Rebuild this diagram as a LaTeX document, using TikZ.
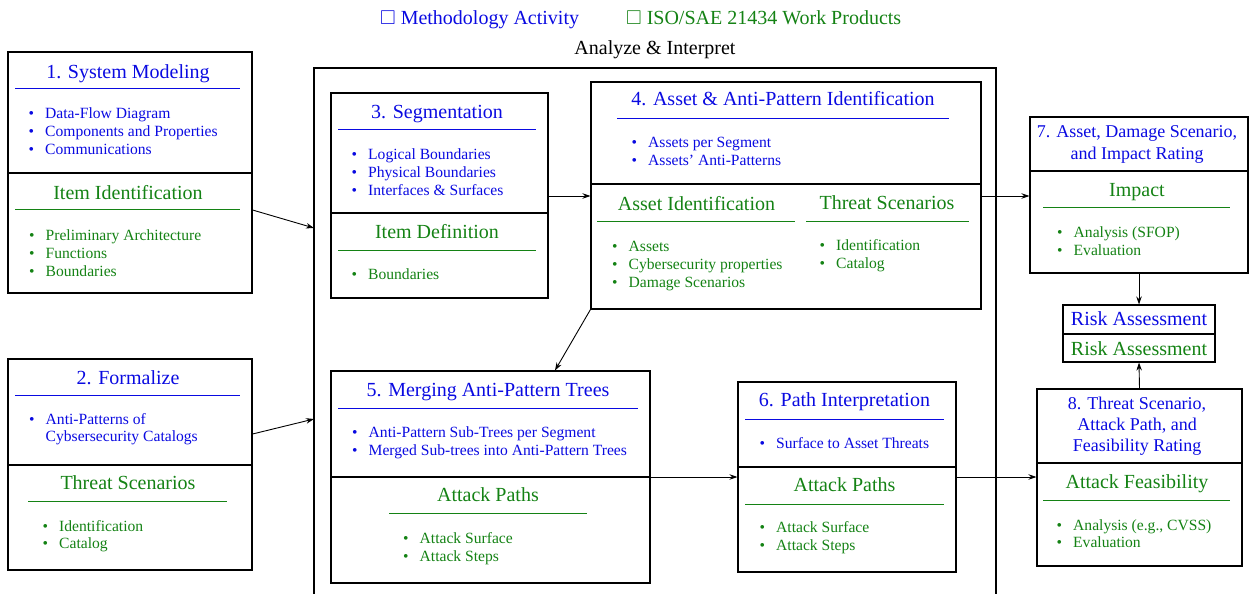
\documentclass[tikz,border=0pt]{standalone}
\usepackage{amssymb}
\usepackage{fontspec}
\setmainfont{Liberation Serif}
\usetikzlibrary{fit,arrows.meta}
\definecolor{mblue}{RGB}{10,10,225}
\definecolor{wgreen}{RGB}{20,130,20}
\newcommand{\bu}{\makebox[16.5pt][l]{\textbullet}}
\tikzset{
  box/.style={draw, line width=1.1pt, inner sep=0pt},
  ttl/.style={anchor=base, inner sep=0pt, font=\fontsize{20}{22}\selectfont},
  sttl/.style={anchor=base, inner sep=0pt, font=\fontsize{18}{21}\selectfont},
  itm/.style={anchor=base west, inner sep=0pt, font=\fontsize{15.6}{18}\selectfont},
  mb/.style={text=mblue}, wp/.style={text=wgreen},
  rb/.style={draw=mblue, line width=1pt},
  rg/.style={draw=wgreen, line width=1pt},
  sep/.style={draw=black, line width=1.1pt},
  arr/.style={-{Stealth[length=8pt,width=5.5pt]}, line width=0.9pt},
}
\begin{document}
\begin{tikzpicture}[x=1pt,y=-1pt]
\useasboundingbox (0,0) rectangle (1251,594);

% legend
\node[ttl, anchor=base west, mb] (leg1) at (380,24.3) {$\square$ Methodology Activity};
\node[ttl, anchor=base west, wp] (leg2) at (626,24.3) {$\square$ ISO/SAE 21434 Work Products};

% frame
\node[ttl] (frt) at (655,55) {Analyze \& Interpret};
\draw[line width=1.1pt] (314,594.5) -- (314,68) -- (996,68) -- (996,594.5);
\coordinate (f1) at (314,228);
\coordinate (f2) at (314,419);

% ---------- Box 1
\node[box, fit={(8,52) (252,293)}] (b1) {};
\draw[sep] (b1.west |- 0,173) -- (b1.east |- 0,173);
\node[ttl, mb] (b1t) at (128,78) {1. System Modeling};
\draw[rb] (15,89) -- (240,89);
\node[itm, mb] (b1a) at (28.5,118.5) {\bu Data-Flow Diagram};
\node[itm, mb] (b1b) at (28.5,136.5) {\bu Components and Properties};
\node[itm, mb] (b1c) at (28.5,154.5) {\bu Communications};
\node[ttl, wp] (b1g) at (128,199) {Item Identification};
\draw[rg] (15,209.5) -- (240,209.5);
\node[itm, wp] (b1d) at (29,240) {\bu Preliminary Architecture};
\node[itm, wp] (b1e) at (29,258) {\bu Functions};
\node[itm, wp] (b1f) at (29,276) {\bu Boundaries};

% ---------- Box 2
\node[box, fit={(8,359) (252,570)}] (b2) {};
\draw[sep] (b2.west |- 0,465) -- (b2.east |- 0,465);
\node[ttl, mb] (b2t) at (128,384.3) {2. Formalize};
\draw[rb] (15,395) -- (240,395);
\node[itm, mb] (b2a) at (29,424.3) {\bu Anti-Patterns of};
\node[itm, mb] (b2b) at (45.5,441.8) {Cybsersecurity Catalogs};
\node[ttl, wp] (b2g) at (128,489) {Threat Scenarios};
\draw[rg] (28,501) -- (227,501);
\node[itm, wp] (b2c) at (42.5,531) {\bu Identification};
\node[itm, wp] (b2d) at (42.5,548.5) {\bu Catalog};

% ---------- Box 3
\node[box, fit={(331,93) (548,298)}] (b3) {};
\draw[sep] (b3.west |- 0,213) -- (b3.east |- 0,213);
\node[ttl, mb] (b3t) at (437,118.3) {3. Segmentation};
\draw[rb] (338,129.5) -- (536,129.5);
\node[itm, mb] (b3a) at (351.5,159.8) {\bu Logical Boundaries};
\node[itm, mb] (b3b) at (351.5,177.8) {\bu Physical Boundaries};
\node[itm, mb] (b3c) at (351.5,195.8) {\bu Interfaces \& Surfaces};
\node[ttl, wp] (b3g) at (437,238.3) {Item Definition};
\draw[rg] (338,250) -- (536,250);
\node[itm, wp] (b3d) at (351.5,279.5) {\bu Boundaries};

% ---------- Box 4
\node[box, fit={(591,82) (981,309)}] (b4) {};
\draw[sep] (b4.west |- 0,184) -- (b4.east |- 0,184);
\node[ttl, mb] (b4t) at (783,105.7) {4. Asset \& Anti-Pattern Identification};
\draw[rb] (617,118.5) -- (949,118.5);
\node[itm, mb] (b4a) at (631.5,147.7) {\bu Assets per Segment};
\node[itm, mb] (b4b) at (631.5,165.7) {\bu Assets' Anti-Patterns};
\node[ttl, wp] (b4g) at (696.5,210) {Asset Identification};
\draw[rg] (597,221.5) -- (795,221.5);
\node[itm, wp] (b4c) at (612,251) {\bu Assets};
\node[itm, wp] (b4d) at (612,269) {\bu Cybersecurity properties};
\node[itm, wp] (b4e) at (612,287) {\bu Damage Scenarios};
\node[ttl, wp] (b4h) at (887,209) {Threat Scenarios};
\draw[rg] (806,221) -- (969,221);
\node[itm, wp] (b4f) at (819.5,250) {\bu Identification};
\node[itm, wp] (b4k) at (819.5,268) {\bu Catalog};

% ---------- Box 5
\node[box, fit={(331,371) (650,583)}] (b5) {};
\draw[sep] (b5.west |- 0,477) -- (b5.east |- 0,477);
\node[ttl, mb] (b5t) at (488,396.7) {5. Merging Anti-Pattern Trees};
\draw[rb] (338,408) -- (638,408);
\node[itm, mb] (b5a) at (352,437.3) {\bu Anti-Pattern Sub-Trees per Segment};
\node[itm, mb] (b5b) at (352,455) {\bu Merged Sub-trees into Anti-Pattern Trees};
\node[ttl, wp] (b5g) at (488,501.7) {Attack Paths};
\draw[rg] (389,513.5) -- (587,513.5);
\node[itm, wp] (b5c) at (403,543.3) {\bu Attack Surface};
\node[itm, wp] (b5d) at (403,561) {\bu Attack Steps};

% ---------- Box 6
\node[box, fit={(738,382) (956,572)}] (b6) {};
\draw[sep] (b6.west |- 0,467) -- (b6.east |- 0,467);
\node[ttl, mb] (b6t) at (844.5,406.7) {6. Path Interpretation};
\draw[rb] (745,419) -- (944,419);
\node[itm, mb] (b6a) at (759.5,448.3) {\bu Surface to Asset Threats};
\node[ttl, wp] (b6g) at (844.5,491.7) {Attack Paths};
\draw[rg] (745,504) -- (944,504);
\node[itm, wp] (b6b) at (759.5,532.7) {\bu Attack Surface};
\node[itm, wp] (b6c) at (759.5,550.7) {\bu Attack Steps};

% ---------- Box 7
\node[box, fit={(1030,117) (1248,273)}] (b7) {};
\draw[sep] (b7.west |- 0,171) -- (b7.east |- 0,171);
\node[sttl, mb] (b7t) at (1137,137.3) {7. Asset, Damage Scenario,};
\node[sttl, mb] (b7u) at (1137,159.5) {and Impact Rating};
\node[ttl, wp] (b7g) at (1137,196.7) {Impact};
\draw[rg] (1043,207.5) -- (1230,207.5);
\node[itm, wp] (b7a) at (1057,237.3) {\bu Analysis (SFOP)};
\node[itm, wp] (b7b) at (1057,255) {\bu Evaluation};

% ---------- Risk box
\node[box, fit={(1063,305) (1215,362)}] (rk) {};
\draw[sep] (rk.west |- 0,334) -- (rk.east |- 0,334);
\node[ttl, mb] (rkt) at (1139,325.7) {Risk Assessment};
\node[ttl, wp] (rkg) at (1139,355) {Risk Assessment};

% ---------- Box 8
\node[box, fit={(1037,389) (1242,566)}] (b8) {};
\draw[sep] (b8.west |- 0,463) -- (b8.east |- 0,463);
\node[sttl, mb] (b8t) at (1137,409.3) {8. Threat Scenario,};
\node[sttl, mb] (b8u) at (1137,430.5) {Attack Path, and};
\node[sttl, mb] (b8v) at (1137,451.7) {Feasibility Rating};
\node[ttl, wp] (b8g) at (1137,488.3) {Attack Feasibility};
\draw[rg] (1043,500) -- (1230,500);
\node[itm, wp] (b8a) at (1056.5,530) {\bu Analysis (e.g., CVSS)};
\node[itm, wp] (b8b) at (1056.5,547.3) {\bu Evaluation};

% ---------- connectors
\draw[arr] (b1.east |- 0,210) -- (f1);
\draw[arr] (b2.east |- 0,434) -- (f2);
\draw[arr] (b3.east |- 0,196) -- (b4.west |- 0,196);
\draw[arr] (b4.east |- 0,196) -- (b7.west |- 0,196);
\draw[arr] (b4.south west) -- (b5.north -| 555,0);
\draw[arr] (b5.east |- 0,477) -- (b6.west |- 0,477);
\draw[arr] (b6.east |- 0,477) -- (b8.west |- 0,477);
\draw[arr] (b7.south) -- (rk.north);
\draw[arr] (b8.north) -- (rk.south);
\end{tikzpicture}
\end{document}
